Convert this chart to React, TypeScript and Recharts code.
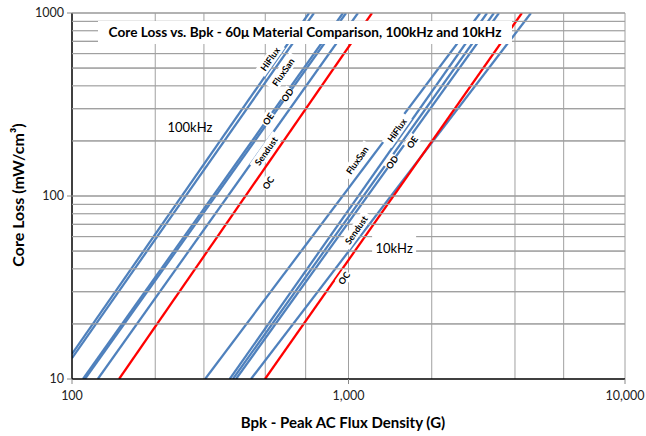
import { CartesianGrid, Line, LineChart, ReferenceDot, XAxis, YAxis } from "recharts";

const materials = ["HiFlux", "FluxSan", "OD", "OE", "Sendust", "OC"];
const lineColors = ["#4f81bd", "#4f81bd", "#4f81bd", "#4f81bd", "#4f81bd", "#ff0000"];

// 100kHz lines: start point (left or bottom edge) -> where they leave the top (1000)
const start100kBpk = [100, 100, 109.6, 111.4, 124, 148];
const start100kLoss = [13.7, 13.0, 10, 10, 10, 10];
const end100kBpk = [720, 750, 955, 980, 1082, 1216];

// 10kHz lines: all start at 10 mW/cm³
const start10kBpk = [372, 303, 382, 392, 444, 499];
const end10kBpk = [3170, 2993, 3357, 3500, 4571, 4238];

// in-line material labels
const label100kBpk = [520, 580, 600, 512, 503, 512];
const label100kLoss = [561, 476, 357, 264, 176, 118];
const label10kBpk = [1496, 1074, 1436, 1698, 1065, 963];
const label10kLoss = [229, 157, 153, 197, 65.2, 35.6];

const freqLabels = ["100kHz", "10kHz"];
const freqLabelBpk = [267, 1462];
const freqLabelLoss = [238, 52];

const xTicks = [100, 1000, 10000];
const yTicks = [10, 100, 1000];
const xGrid = [200, 300, 400, 500, 600, 700, 800, 900, 1000, 2000, 3000, 4000, 5000, 6000, 7000, 8000, 9000, 10000];
const yGrid = [20, 30, 40, 50, 60, 70, 80, 90, 100, 200, 300, 400, 500, 600, 700, 800, 900, 1000];

const FONT = "Lato, 'Open Sans', sans-serif";
const GRID = "#a0a0a0";

const lines100k = materials.map((m, i) => ({
  name: m + " 100kHz",
  color: lineColors[i],
  data: [
    { b: start100kBpk[i], loss: start100kLoss[i] },
    { b: end100kBpk[i], loss: 1000 },
  ],
}));

const lines10k = materials.map((m, i) => ({
  name: m + " 10kHz",
  color: lineColors[i],
  data: [
    { b: start10kBpk[i], loss: 10 },
    { b: end10kBpk[i], loss: 1000 },
  ],
}));

const tags = [
  ...materials.map((m, i) => ({ text: m, b: label100kBpk[i], loss: label100kLoss[i] })),
  ...materials.map((m, i) => ({ text: m, b: label10kBpk[i], loss: label10kLoss[i] })),
];

// horizontal grid line, drawn through the library's own y scale (ReferenceDot gives cy)
function HGrid({ cy }: { cy?: number }) {
  if (cy == null) return null;
  return <rect x={72} y={cy - 0.6} width={553} height={1.2} fill={GRID} />;
}

function LineTag({ cx, cy, text }: { cx?: number; cy?: number; text: string }) {
  if (cx == null || cy == null) return null;
  const w = text.length * 5.2 + 4;
  return (
    <g transform={`translate(${cx},${cy}) rotate(-55)`}>
      <rect x={-w / 2} y={-6} width={w} height={12} fill="#fff" />
      <text
        textAnchor="middle"
        dominantBaseline="central"
        fontSize={9}
        fontWeight={700}
        fontFamily={FONT}
        fill="#000"
      >
        {text}
      </text>
    </g>
  );
}

function FreqTag({ cx, cy, text, boxed }: { cx?: number; cy?: number; text: string; boxed: boolean }) {
  if (cx == null || cy == null) return null;
  return (
    <g>
      {boxed && <rect x={cx - 22} y={cy - 12} width={44} height={24} fill="#fff" />}
      <text
        x={cx}
        y={cy}
        textAnchor="middle"
        dominantBaseline="central"
        fontSize={13}
        fontFamily={FONT}
        fill="#000"
      >
        {text}
      </text>
    </g>
  );
}

export default function App() {
  return (
    <div style={{ position: "absolute", left: 0, top: 0, width: 646, height: 436, background: "#fff" }}>
      <LineChart width={646} height={436} margin={{ top: 13, right: 21, left: 12, bottom: 27 }}>
        <CartesianGrid
          stroke={GRID}
          strokeWidth={1}
          horizontalValues={yGrid}
          verticalValues={xGrid}
        />
        <XAxis
          dataKey="b"
          type="number"
          scale="log"
          domain={[100, 10000]}
          ticks={xTicks}
          allowDataOverflow
          height={30}
          tickSize={5}
          tickMargin={7}
          tickFormatter={(v: number) => v.toLocaleString("en-US")}
          tick={{ fontSize: 12.5, fill: "#222", fontFamily: FONT }}
          axisLine={{ stroke: "#000", strokeWidth: 1.5 }}
          tickLine={{ stroke: "#888" }}
        />
        <YAxis
          type="number"
          scale="log"
          domain={[10, 1000]}
          ticks={yTicks}
          allowDataOverflow
          width={60}
          tickSize={5}
          tickMargin={3}
          tick={{ fontSize: 12.5, fill: "#222", fontFamily: FONT }}
          axisLine={{ stroke: "#000", strokeWidth: 1.5 }}
          tickLine={{ stroke: "#888" }}
        />
        {yGrid.map((v) => (
          <ReferenceDot
            key={"hg" + v}
            x={100}
            y={v}
            ifOverflow="visible"
            shape={(p: any) => <HGrid cy={p.cy} />}
          />
        ))}
        {[...lines100k, ...lines10k].map((s) => (
          <Line
            key={s.name}
            data={s.data}
            dataKey="loss"
            name={s.name}
            stroke={s.color}
            strokeWidth={2.25}
            dot={false}
            activeDot={false}
            isAnimationActive={false}
          />
        ))}
        {tags.map((t, i) => (
          <ReferenceDot
            key={"tag" + i}
            x={t.b}
            y={t.loss}
            ifOverflow="visible"
            shape={(p: any) => <LineTag cx={p.cx} cy={p.cy} text={t.text} />}
          />
        ))}
        {freqLabels.map((f, i) => (
          <ReferenceDot
            key={f}
            x={freqLabelBpk[i]}
            y={freqLabelLoss[i]}
            ifOverflow="visible"
            shape={(p: any) => <FreqTag cx={p.cx} cy={p.cy} text={f} boxed={i === 1} />}
          />
        ))}
      </LineChart>
      <div
        style={{
          position: "absolute",
          left: 98,
          top: 21,
          width: 414,
          height: 23,
          lineHeight: "23px",
          background: "#fff",
          textAlign: "center",
          fontFamily: FONT,
          fontWeight: 700,
          fontSize: 13.6,
          color: "#000",
          whiteSpace: "nowrap",
        }}
      >
        Core Loss vs. Bpk - 60μ Material Comparison, 100kHz and 10kHz
      </div>
      <div
        style={{
          position: "absolute",
          left: 343 - 150,
          top: 413,
          width: 300,
          textAlign: "center",
          fontFamily: FONT,
          fontWeight: 700,
          fontSize: 15,
          color: "#000",
        }}
      >
        Bpk - Peak AC Flux Density (G)
      </div>
      <div
        style={{
          position: "absolute",
          left: 18 - 100,
          top: 195 - 11,
          width: 200,
          height: 22,
          lineHeight: "22px",
          textAlign: "center",
          transform: "rotate(-90deg)",
          fontFamily: FONT,
          fontWeight: 700,
          fontSize: 16,
          color: "#000",
        }}
      >
        Core Loss (mW/cm³)
      </div>
    </div>
  );
}
